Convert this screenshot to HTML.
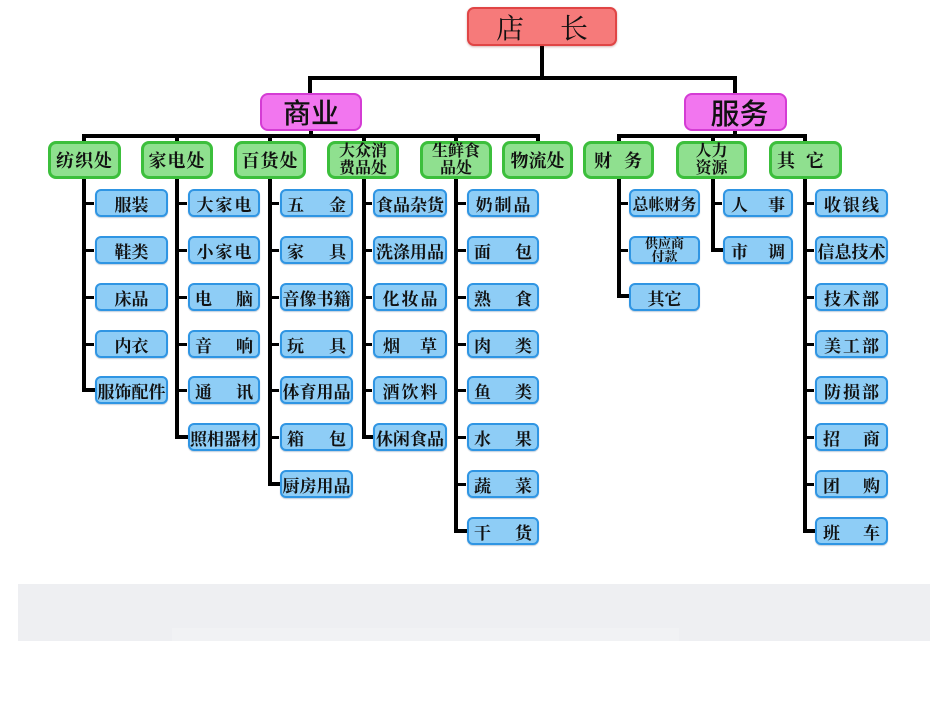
<!DOCTYPE html>
<html><head><meta charset="utf-8">
<style>
html,body{margin:0;padding:0}
body{width:950px;height:713px;background:#fff;position:relative;overflow:hidden}
.l{position:absolute;background:#000}
.x{position:absolute;box-sizing:border-box;display:flex;align-items:center;justify-content:center;color:#111;white-space:nowrap;font-family:"Liberation Serif","Noto Serif CJK SC",serif;font-weight:700}
.b{height:28px;border:2px solid #2f95e3;border-radius:6px;background:#8ecdf6;font-size:17px;box-shadow:0 1px 1px rgba(0,60,120,.25)}
.g{top:141px;height:38px;border:3px solid #3cbf3c;border-radius:8px;background:#8fe08f;font-size:18px;letter-spacing:1px}
.s{justify-content:space-between;padding:0 5px}
.c3{letter-spacing:2px;padding-left:2px}
.f4{font-size:17px;letter-spacing:0;overflow:visible}
.t{flex-direction:column;line-height:17px;font-size:16px;letter-spacing:0}
</style></head><body>

<!-- gray bar -->
<div style="position:absolute;left:18px;top:584px;width:912px;height:57px;background:#eeeff2"></div>
<div style="position:absolute;left:172px;top:628px;width:507px;height:13px;background:#f1f2f4"></div>

<!-- top connectors -->
<div class="l" style="left:540px;top:44px;width:4px;height:34px"></div>
<div class="l" style="left:308px;top:76px;width:429px;height:4px"></div>
<div class="l" style="left:308px;top:76px;width:4px;height:18px"></div>
<div class="l" style="left:733px;top:76px;width:4px;height:18px"></div>
<div class="l" style="left:309px;top:129px;width:4px;height:7px"></div>
<div class="l" style="left:733px;top:129px;width:4px;height:7px"></div>
<div class="l" style="left:82px;top:134px;width:458px;height:4px"></div>
<div class="l" style="left:617px;top:134px;width:190px;height:4px"></div>
<div class="l" style="left:536px;top:134px;width:4px;height:8px"></div>

<!-- column verticals -->
<div class="l" style="left:82px;top:134px;width:4px;height:258px"></div>
<div class="l" style="left:175px;top:134px;width:4px;height:305px"></div>
<div class="l" style="left:268px;top:134px;width:4px;height:352px"></div>
<div class="l" style="left:362px;top:134px;width:4px;height:305px"></div>
<div class="l" style="left:454px;top:134px;width:4px;height:399px"></div>
<div class="l" style="left:617px;top:134px;width:4px;height:164px"></div>
<div class="l" style="left:711px;top:134px;width:4px;height:118px"></div>
<div class="l" style="left:803px;top:134px;width:4px;height:399px"></div>

<!-- ticks col1 -->
<div class="l" style="left:86px;top:202px;width:8px;height:3px"></div>
<div class="l" style="left:86px;top:249px;width:8px;height:3px"></div>
<div class="l" style="left:86px;top:296px;width:8px;height:3px"></div>
<div class="l" style="left:86px;top:343px;width:8px;height:3px"></div>
<div class="l" style="left:82px;top:388px;width:13px;height:4px"></div>
<!-- col2 -->
<div class="l" style="left:179px;top:202px;width:8px;height:3px"></div>
<div class="l" style="left:179px;top:249px;width:8px;height:3px"></div>
<div class="l" style="left:179px;top:296px;width:8px;height:3px"></div>
<div class="l" style="left:179px;top:343px;width:8px;height:3px"></div>
<div class="l" style="left:179px;top:389px;width:8px;height:3px"></div>
<div class="l" style="left:175px;top:435px;width:13px;height:4px"></div>
<!-- col3 -->
<div class="l" style="left:272px;top:202px;width:7px;height:3px"></div>
<div class="l" style="left:272px;top:249px;width:7px;height:3px"></div>
<div class="l" style="left:272px;top:296px;width:7px;height:3px"></div>
<div class="l" style="left:272px;top:343px;width:7px;height:3px"></div>
<div class="l" style="left:272px;top:389px;width:7px;height:3px"></div>
<div class="l" style="left:272px;top:436px;width:7px;height:3px"></div>
<div class="l" style="left:268px;top:482px;width:12px;height:4px"></div>
<!-- col4 -->
<div class="l" style="left:366px;top:202px;width:6px;height:3px"></div>
<div class="l" style="left:366px;top:249px;width:6px;height:3px"></div>
<div class="l" style="left:366px;top:296px;width:6px;height:3px"></div>
<div class="l" style="left:366px;top:343px;width:6px;height:3px"></div>
<div class="l" style="left:366px;top:389px;width:6px;height:3px"></div>
<div class="l" style="left:362px;top:435px;width:11px;height:4px"></div>
<!-- col5 -->
<div class="l" style="left:458px;top:202px;width:8px;height:3px"></div>
<div class="l" style="left:458px;top:249px;width:8px;height:3px"></div>
<div class="l" style="left:458px;top:296px;width:8px;height:3px"></div>
<div class="l" style="left:458px;top:343px;width:8px;height:3px"></div>
<div class="l" style="left:458px;top:389px;width:8px;height:3px"></div>
<div class="l" style="left:458px;top:436px;width:8px;height:3px"></div>
<div class="l" style="left:458px;top:483px;width:8px;height:3px"></div>
<div class="l" style="left:454px;top:529px;width:13px;height:4px"></div>
<!-- col7 -->
<div class="l" style="left:621px;top:202px;width:7px;height:3px"></div>
<div class="l" style="left:621px;top:249px;width:7px;height:3px"></div>
<div class="l" style="left:617px;top:294px;width:12px;height:4px"></div>
<!-- col8 -->
<div class="l" style="left:715px;top:202px;width:7px;height:3px"></div>
<div class="l" style="left:711px;top:248px;width:12px;height:4px"></div>
<!-- col9 -->
<div class="l" style="left:807px;top:202px;width:7px;height:3px"></div>
<div class="l" style="left:807px;top:249px;width:7px;height:3px"></div>
<div class="l" style="left:807px;top:296px;width:7px;height:3px"></div>
<div class="l" style="left:807px;top:343px;width:7px;height:3px"></div>
<div class="l" style="left:807px;top:389px;width:7px;height:3px"></div>
<div class="l" style="left:807px;top:436px;width:7px;height:3px"></div>
<div class="l" style="left:807px;top:483px;width:7px;height:3px"></div>
<div class="l" style="left:803px;top:529px;width:12px;height:4px"></div>

<!-- top boxes -->
<div class="x" style="left:467px;top:7px;width:150px;height:39px;border:2px solid #e04545;border-radius:7px;background:#f67a7a;font-weight:400;font-size:28px;box-shadow:0 1px 2px rgba(120,0,0,.3)"><span>店</span><span style="display:inline-block;width:36px"></span><span>长</span></div>
<div class="x" style="left:260px;top:93px;width:102px;height:38px;border:2px solid #d43cd4;border-radius:8px;background:#f276ef;font-family:'Liberation Sans','Noto Sans CJK SC',sans-serif;font-weight:500;font-size:28px">商业</div>
<div class="x" style="left:684px;top:93px;width:103px;height:38px;border:2px solid #d43cd4;border-radius:8px;background:#f276ef;font-family:'Liberation Sans','Noto Sans CJK SC',sans-serif;font-weight:500;font-size:29px;padding-left:8px">服务</div>

<!-- green boxes -->
<div class="x g" style="left:48px;width:73px">纺织处</div>
<div class="x g" style="left:141px;width:72px">家电处</div>
<div class="x g" style="left:234px;width:72px">百货处</div>
<div class="x g t" style="left:327px;width:72px"><span>大众消</span><span>费品处</span></div>
<div class="x g t" style="left:420px;width:72px"><span>生鲜食</span><span>品处</span></div>
<div class="x g" style="left:502px;width:71px;letter-spacing:0">物流处</div>
<div class="x g s" style="left:583px;width:71px;padding:0 8px 0 8px"><span>财</span><span>务</span></div>
<div class="x g t" style="left:676px;width:71px"><span>人力</span><span>资源</span></div>
<div class="x g s" style="left:769px;width:73px;padding:0 14px 0 5px"><span>其</span><span>它</span></div>

<!-- col1 -->
<div class="x b" style="left:95px;top:189px;width:73px">服装</div>
<div class="x b" style="left:95px;top:236px;width:73px">鞋类</div>
<div class="x b" style="left:95px;top:283px;width:73px">床品</div>
<div class="x b" style="left:95px;top:330px;width:73px">内衣</div>
<div class="x b f4" style="left:95px;top:376px;width:73px">服饰配件</div>
<!-- col2 -->
<div class="x b c3" style="left:188px;top:189px;width:72px">大家电</div>
<div class="x b c3" style="left:188px;top:236px;width:72px">小家电</div>
<div class="x b s" style="left:188px;top:283px;width:72px"><span>电</span><span>脑</span></div>
<div class="x b s" style="left:188px;top:330px;width:72px"><span>音</span><span>响</span></div>
<div class="x b s" style="left:188px;top:376px;width:72px"><span>通</span><span>讯</span></div>
<div class="x b f4" style="left:188px;top:423px;width:72px">照相器材</div>
<!-- col3 -->
<div class="x b s" style="left:280px;top:189px;width:73px"><span>五</span><span>金</span></div>
<div class="x b s" style="left:280px;top:236px;width:73px"><span>家</span><span>具</span></div>
<div class="x b f4" style="left:280px;top:283px;width:73px">音像书籍</div>
<div class="x b s" style="left:280px;top:330px;width:73px"><span>玩</span><span>具</span></div>
<div class="x b f4" style="left:280px;top:376px;width:73px">体育用品</div>
<div class="x b s" style="left:280px;top:423px;width:73px"><span>箱</span><span>包</span></div>
<div class="x b f4" style="left:280px;top:470px;width:73px">厨房用品</div>
<!-- col4 -->
<div class="x b f4" style="left:373px;top:189px;width:74px">食品杂货</div>
<div class="x b f4" style="left:373px;top:236px;width:74px">洗涤用品</div>
<div class="x b c3" style="left:373px;top:283px;width:74px">化妆品</div>
<div class="x b s" style="left:373px;top:330px;width:74px;padding:0 8px"><span>烟</span><span>草</span></div>
<div class="x b c3" style="left:373px;top:376px;width:74px">酒饮料</div>
<div class="x b f4" style="left:373px;top:423px;width:74px">休闲食品</div>
<!-- col5 -->
<div class="x b c3" style="left:467px;top:189px;width:72px">奶制品</div>
<div class="x b s" style="left:467px;top:236px;width:72px"><span>面</span><span>包</span></div>
<div class="x b s" style="left:467px;top:283px;width:72px"><span>熟</span><span>食</span></div>
<div class="x b s" style="left:467px;top:330px;width:72px"><span>肉</span><span>类</span></div>
<div class="x b s" style="left:467px;top:376px;width:72px"><span>鱼</span><span>类</span></div>
<div class="x b s" style="left:467px;top:423px;width:72px"><span>水</span><span>果</span></div>
<div class="x b s" style="left:467px;top:470px;width:72px"><span>蔬</span><span>菜</span></div>
<div class="x b s" style="left:467px;top:517px;width:72px"><span>干</span><span>货</span></div>
<!-- col7 -->
<div class="x b" style="left:629px;top:189px;width:71px;font-size:16px">总帐财务</div>
<div class="x b" style="left:629px;top:236px;width:71px;flex-direction:column;font-size:13px;line-height:13px"><span>供应商</span><span>付款</span></div>
<div class="x b" style="left:629px;top:283px;width:71px">其它</div>
<!-- col8 -->
<div class="x b s" style="left:723px;top:189px;width:70px;padding:0 6px"><span>人</span><span>事</span></div>
<div class="x b s" style="left:723px;top:236px;width:70px;padding:0 6px"><span>市</span><span>调</span></div>
<!-- col9 -->
<div class="x b c3" style="left:815px;top:189px;width:73px">收银线</div>
<div class="x b f4" style="left:815px;top:236px;width:73px">信息技术</div>
<div class="x b c3" style="left:815px;top:283px;width:73px">技术部</div>
<div class="x b c3" style="left:815px;top:330px;width:73px">美工部</div>
<div class="x b c3" style="left:815px;top:376px;width:73px">防损部</div>
<div class="x b s" style="left:815px;top:423px;width:73px;padding:0 6px"><span>招</span><span>商</span></div>
<div class="x b s" style="left:815px;top:470px;width:73px;padding:0 6px"><span>团</span><span>购</span></div>
<div class="x b s" style="left:815px;top:517px;width:73px;padding:0 6px"><span>班</span><span>车</span></div>

</body></html>
